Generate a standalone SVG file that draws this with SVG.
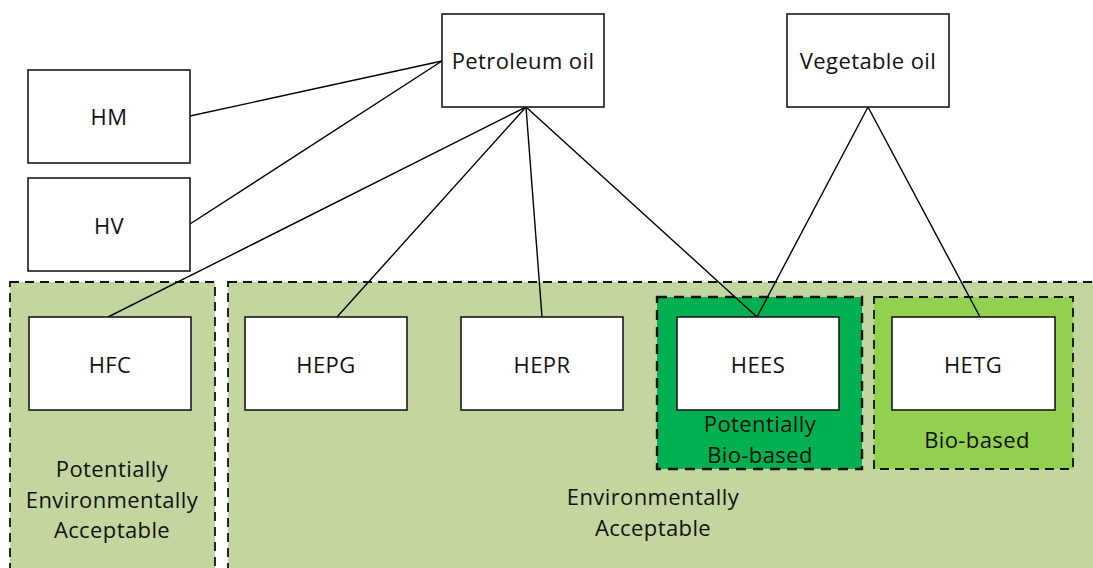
<svg xmlns="http://www.w3.org/2000/svg" width="1093" height="568" viewBox="0 0 1093 568">
<style>
.region{stroke:#111;stroke-width:1.8;stroke-dasharray:9 6}
.thick{stroke-width:2.4;stroke-dasharray:10 7}
.box{fill:#fff;stroke:#1a1a1a;stroke-width:1.6}
.t{font-family:"Open Sans","Liberation Sans",sans-serif;font-size:22px;fill:#111;text-anchor:middle;letter-spacing:0.4px}
.c{stroke:#000;stroke-width:1.4;fill:none}
</style>
<rect width="1093" height="568" fill="#fff"/>
<g id="region-pea">
<rect class="region" x="10" y="282" width="205" height="300" fill="#C4D6A0"/>
<text class="t" x="112" y="477">Potentially</text>
<text class="t" x="112" y="508">Environmentally</text>
<text class="t" x="112" y="538">Acceptable</text>
</g>
<g id="region-ea">
<rect class="region" x="228" y="282" width="880" height="300" fill="#C4D6A0"/>
<text class="t" x="653" y="505">Environmentally</text>
<text class="t" x="653" y="536">Acceptable</text>
</g>
<g id="region-pbb">
<rect class="region thick" x="657" y="297" width="205" height="172" fill="#00B050"/>
<text class="t" x="760" y="432">Potentially</text>
<text class="t" x="760" y="463">Bio-based</text>
</g>
<g id="region-bb">
<rect class="region" x="874" y="297" width="199" height="172" fill="#92D050"/>
<text class="t" x="977" y="448">Bio-based</text>
</g>
<g id="connectors">
<line class="c" x1="190" y1="116" x2="442" y2="61"/>
<line class="c" x1="190" y1="224" x2="442" y2="61"/>
<line class="c" x1="108" y1="317" x2="526" y2="107"/>
<line class="c" x1="337" y1="317" x2="526" y2="107"/>
<line class="c" x1="542" y1="317" x2="526" y2="107"/>
<line class="c" x1="757" y1="317" x2="526" y2="107"/>
<line class="c" x1="757" y1="317" x2="868" y2="107"/>
<line class="c" x1="980" y1="317" x2="868" y2="107"/>
</g>
<g id="petroleum">
<rect class="box" x="442" y="14" width="162" height="93"/>
<text class="t" x="523" y="69">Petroleum oil</text>
</g>
<g id="vegetable">
<rect class="box" x="787" y="14" width="162" height="93"/>
<text class="t" x="868" y="69">Vegetable oil</text>
</g>
<g id="hm">
<rect class="box" x="28" y="70" width="162" height="93"/>
<text class="t" x="109" y="125">HM</text>
</g>
<g id="hv">
<rect class="box" x="28" y="178" width="162" height="93"/>
<text class="t" x="109" y="234">HV</text>
</g>
<g id="hfc">
<rect class="box" x="29" y="317" width="162" height="93"/>
<text class="t" x="110" y="373">HFC</text>
</g>
<g id="hepg">
<rect class="box" x="245" y="317" width="162" height="93"/>
<text class="t" x="326" y="373">HEPG</text>
</g>
<g id="hepr">
<rect class="box" x="461" y="317" width="162" height="93"/>
<text class="t" x="542" y="373">HEPR</text>
</g>
<g id="hees">
<rect class="box" x="677" y="317" width="162" height="93"/>
<text class="t" x="758" y="373">HEES</text>
</g>
<g id="hetg">
<rect class="box" x="892" y="317" width="163" height="93"/>
<text class="t" x="973" y="373">HETG</text>
</g>
</svg>
